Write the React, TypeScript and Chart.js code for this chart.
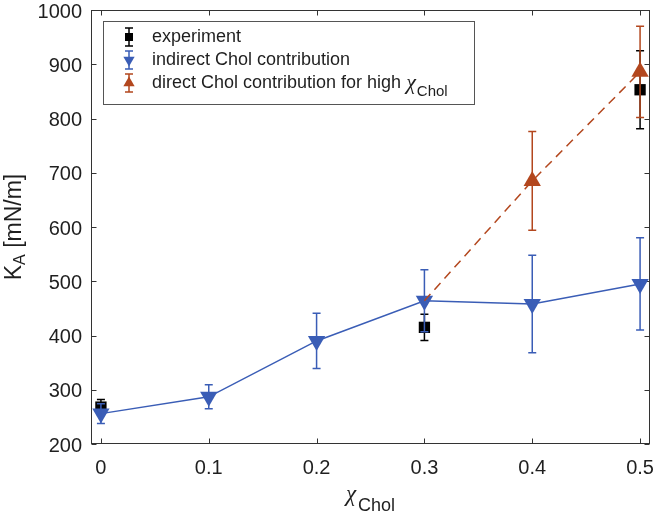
import React, { useEffect, useRef } from "react";
import { Chart, registerables } from "chart.js";

Chart.register(...registerables);

// ---- data ----
const expX = [0, 0.3, 0.5];
const expY = [268, 415, 853];
const expErr = [14, 24, 72];

const indirectX = [0, 0.1, 0.2, 0.3, 0.4, 0.5];
const indirectY = [256, 287, 390, 464, 458, 495];
const indirectErr = [18, 22, 51, 57, 90, 85];

const directX = [0.3, 0.4, 0.5];
const directY = [464, 685, 886];
const directErr = [0, 91, 84];
const directMarker = [0, 10, 10];

const xTicks = [0, 0.1, 0.2, 0.3, 0.4, 0.5];
const yTicks = [200, 300, 400, 500, 600, 700, 800, 900, 1000];

const legendLabels = ["experiment", "indirect Chol contribution", "direct Chol contribution for high "];

const BLUE = "#3A5DB6";
const ORANGE = "#B3471E";
const BLACK = "#000000";
const AXIS = "#333333";
const TEXT = "#1f1f1f";
const SANS = "'Liberation Sans', Arial, Helvetica, sans-serif";
const SERIF = "'Liberation Serif', 'DejaVu Serif', serif";

const toPts = (xs: number[], ys: number[]) => xs.map((x, i) => ({ x, y: ys[i] }));

function drawTri(ctx: CanvasRenderingContext2D, x: number, y: number, r: number, down: boolean) {
  const s = down ? -1 : 1;
  ctx.beginPath();
  ctx.moveTo(x, y - s * r);
  ctx.lineTo(x + r * Math.sin(Math.PI / 3), y + s * r * 0.5);
  ctx.lineTo(x - r * Math.sin(Math.PI / 3), y + s * r * 0.5);
  ctx.closePath();
  ctx.fill();
}

const errorBarPlugin = {
  id: "errorBars",
  afterDatasetDraw(chart: any, args: any) {
    const ds = chart.data.datasets[args.index];
    const errs: number[] | undefined = ds.errors;
    if (!errs) return;
    const ys = chart.scales.y;
    const xs = chart.scales.x;
    const ctx = chart.ctx;
    ctx.save();
    ctx.strokeStyle = ds.borderColor;
    ctx.lineWidth = 1.5;
    ctx.setLineDash([]);
    ds.data.forEach((p: any, i: number) => {
      const e = errs[i];
      if (!e) return;
      const px = xs.getPixelForValue(p.x);
      const top = ys.getPixelForValue(p.y + e);
      const bot = ys.getPixelForValue(p.y - e);
      ctx.beginPath();
      ctx.moveTo(px, top);
      ctx.lineTo(px, bot);
      ctx.moveTo(px - 4, top);
      ctx.lineTo(px + 4, top);
      ctx.moveTo(px - 4, bot);
      ctx.lineTo(px + 4, bot);
      ctx.stroke();
    });
    ctx.restore();
  },
};

const framePlugin = {
  id: "frame",
  beforeDatasetsDraw(chart: any) {
    const { ctx, chartArea: a } = chart;
    const xs = chart.scales.x;
    const ys = chart.scales.y;
    ctx.save();
    ctx.strokeStyle = AXIS;
    ctx.lineWidth = 1;
    const L = Math.round(a.left) + 0.5;
    const R = Math.round(a.right) - 0.5;
    const T = Math.round(a.top) + 0.5;
    const B = Math.round(a.bottom) - 0.5;
    ctx.strokeRect(L, T, R - L, B - T);
    ctx.beginPath();
    xTicks.forEach((v) => {
      const px = Math.round(xs.getPixelForValue(v)) + 0.5;
      ctx.moveTo(px, B);
      ctx.lineTo(px, B - 5);
      ctx.moveTo(px, T);
      ctx.lineTo(px, T + 5);
    });
    yTicks.forEach((v) => {
      const py = Math.round(ys.getPixelForValue(v)) + 0.5;
      ctx.moveTo(L, py);
      ctx.lineTo(L + 5, py);
      ctx.moveTo(R, py);
      ctx.lineTo(R - 5, py);
    });
    ctx.stroke();
    ctx.restore();
  },
  afterDraw(chart: any) {
    const { ctx, chartArea: a } = chart;
    ctx.save();
    // ---- legend ----
    const bx = 103.5, by = 21.5, bw = 371, bh = 83;
    ctx.fillStyle = "#ffffff";
    ctx.fillRect(bx, by, bw, bh);
    ctx.strokeStyle = "#555555";
    ctx.lineWidth = 1;
    ctx.strokeRect(bx, by, bw, bh);
    const rows = [37, 60, 83];
    const mx = 129;
    const colors = [BLACK, BLUE, ORANGE];
    rows.forEach((ry, i) => {
      ctx.strokeStyle = colors[i];
      ctx.fillStyle = colors[i];
      ctx.lineWidth = 1.5;
      ctx.beginPath();
      ctx.moveTo(mx, ry - 9);
      ctx.lineTo(mx, ry + 9);
      ctx.moveTo(mx - 4, ry - 9);
      ctx.lineTo(mx + 4, ry - 9);
      ctx.moveTo(mx - 4, ry + 9);
      ctx.lineTo(mx + 4, ry + 9);
      ctx.stroke();
      if (i === 0) ctx.fillRect(mx - 4, ry - 4, 8, 8);
      else drawTri(ctx, mx, ry, 6.5, i === 1);
      ctx.fillStyle = TEXT;
      ctx.font = `18px ${SANS}`;
      ctx.textAlign = "left";
      ctx.textBaseline = "middle";
      ctx.fillText(legendLabels[i], 152, ry);
      if (i === 2) {
        const w = ctx.measureText(legendLabels[i]).width;
        ctx.textBaseline = "alphabetic";
        ctx.font = `italic 22px ${SERIF}`;
        ctx.fillText("\u03c7", 152 + w, ry + 6);
        const cw = ctx.measureText("\u03c7").width;
        ctx.font = `15px ${SANS}`;
        ctx.fillText("Chol", 152 + w + cw + 1, ry + 13);
      }
    });
    // ---- x axis title ----
    ctx.fillStyle = TEXT;
    ctx.textAlign = "left";
    ctx.textBaseline = "alphabetic";
    ctx.font = `italic 23px ${SERIF}`;
    const chiW = ctx.measureText("\u03c7").width;
    ctx.font = `18px ${SANS}`;
    const cholW = ctx.measureText("Chol").width;
    const cx = (a.left + a.right) / 2;
    const x0 = cx - (chiW + 2 + cholW) / 2;
    ctx.font = `italic 23px ${SERIF}`;
    ctx.fillText("\u03c7", x0, 501);
    ctx.font = `18px ${SANS}`;
    ctx.fillText("Chol", x0 + chiW + 2, 511);
    // ---- y axis title ----
    ctx.save();
    ctx.translate(21, (a.top + a.bottom) / 2);
    ctx.rotate(-Math.PI / 2);
    ctx.font = `23px ${SANS}`;
    const kW = ctx.measureText("K").width;
    const restW = ctx.measureText(" [mN/m]").width;
    ctx.font = `16px ${SANS}`;
    const aW = ctx.measureText("A").width;
    const total = kW + aW + restW;
    let sx = -total / 2;
    ctx.font = `23px ${SANS}`;
    ctx.fillText("K", sx, 0);
    sx += kW;
    ctx.font = `16px ${SANS}`;
    ctx.fillText("A", sx, 4);
    sx += aW;
    ctx.font = `23px ${SANS}`;
    ctx.fillText(" [mN/m]", sx, 0);
    ctx.restore();
    ctx.restore();
  },
};

export default function App() {
  const ref = useRef<HTMLCanvasElement>(null);
  useEffect(() => {
    document.body.style.margin = "0";
    const c = ref.current;
    if (!c) return;
    const chart = new Chart(c, {
      type: "scatter",
      data: {
        datasets: [
          {
            label: "experiment",
            data: toPts(expX, expY),
            errors: expErr,
            showLine: false,
            pointStyle: "rect",
            pointRadius: 8,
            pointHoverRadius: 8,
            backgroundColor: BLACK,
            borderColor: BLACK,
            pointBorderWidth: 0,
            order: 3,
            clip: false,
          } as any,
          {
            label: "indirect Chol contribution",
            data: toPts(indirectX, indirectY),
            errors: indirectErr,
            showLine: true,
            borderColor: BLUE,
            backgroundColor: BLUE,
            borderWidth: 1.5,
            pointStyle: "triangle",
            pointRotation: 180,
            pointRadius: 10,
            pointHoverRadius: 10,
            pointBorderWidth: 0,
            order: 2,
            clip: false,
          } as any,
          {
            label: "direct Chol contribution",
            data: toPts(directX, directY),
            errors: directErr,
            showLine: true,
            borderColor: ORANGE,
            backgroundColor: ORANGE,
            borderWidth: 1.5,
            borderDash: [9, 6],
            pointStyle: "triangle",
            pointRadius: directMarker,
            pointHoverRadius: directMarker,
            pointBorderWidth: 0,
            order: 1,
            clip: false,
          } as any,
        ],
      },
      options: {
        responsive: false,
        animation: false,
        events: [],
        layout: { padding: { top: 8, right: 5, left: 0, bottom: 0 } },
        plugins: { legend: { display: false }, tooltip: { enabled: false }, title: { display: false } },
        scales: {
          x: {
            type: "linear",
            min: -0.0092,
            max: 0.5092,
            grid: { display: false, drawTicks: false },
            border: { display: false },
            ticks: {
              color: TEXT,
              font: { family: SANS, size: 20 },
              padding: 12,
              maxRotation: 0,
              autoSkip: false,
              callback: (v: any) => `${+Number(v).toFixed(2)}`,
            },
            afterBuildTicks: (s: any) => {
              s.ticks = xTicks.map((v) => ({ value: v }));
            },
            afterFit: (s: any) => {
              s.height = 71;
              s.paddingLeft = 0;
              s.paddingRight = 0;
            },
          },
          y: {
            type: "linear",
            min: 200,
            max: 1000,
            grid: { display: false, drawTicks: false },
            border: { display: false },
            ticks: {
              color: TEXT,
              font: { family: SANS, size: 20 },
              padding: 9,
              labelOffset: 2,
              autoSkip: false,
              callback: (v: any) => `${v}`,
            },
            afterBuildTicks: (s: any) => {
              s.ticks = yTicks.map((v) => ({ value: v }));
            },
            afterFit: (s: any) => {
              s.width = 91;
              s.paddingTop = 0;
              s.paddingBottom = 0;
            },
          },
        },
      },
      plugins: [errorBarPlugin, framePlugin],
    } as any);
    return () => chart.destroy();
  }, []);
  return (
    <div style={{ width: 660, height: 515 }}>
      <canvas ref={ref} width={660} height={515} style={{ display: "block" }} />
    </div>
  );
}
